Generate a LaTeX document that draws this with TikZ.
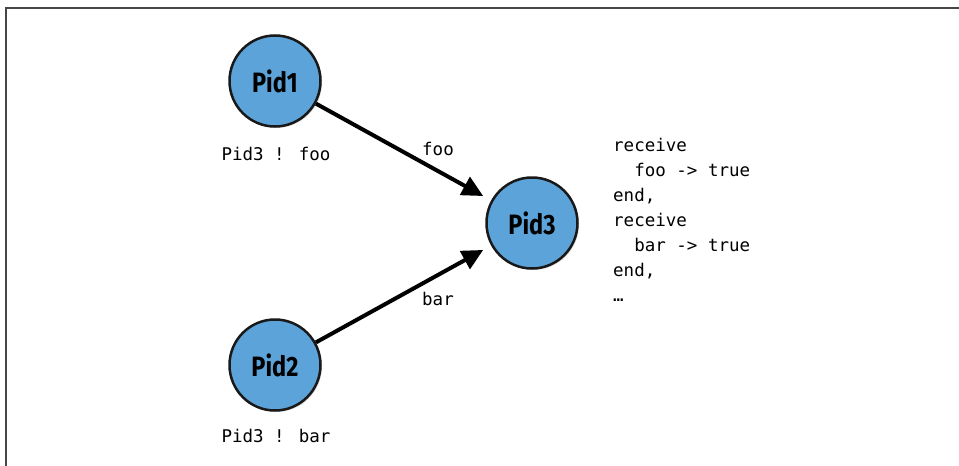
\documentclass[tikz,border=0pt]{standalone}
\usepackage{fontspec}
\usetikzlibrary{arrows.meta,shadows}
\newfontfamily\codefont{DejaVu Sans Mono}
\newfontfamily\pidfont[FakeStretch=0.84]{Fira Sans}
\definecolor{pidblue}{RGB}{92,163,218}
\definecolor{framegray}{RGB}{70,70,70}
\tikzset{
  pid/.style={circle, draw=black!90, line width=2.5pt, fill=pidblue, minimum size=91pt, inner sep=0pt,
    font=\pidfont\bfseries\fontsize{28}{28}\selectfont,
    drop shadow={opacity=0.25, shadow xshift=1.5pt, shadow yshift=-1.5pt}},
  code/.style={font=\codefont\fontsize{17.5}{25}\selectfont, inner sep=0pt},
  msg/.style={-{Triangle[length=21pt,width=20pt]}, line width=4pt, shorten >=9pt},
}
\begin{document}
\begin{tikzpicture}[x=1pt,y=-1pt]
\useasboundingbox (0,0) rectangle (959,466);
\fill[white] (0,0) rectangle (959,466);
\draw[framegray, line width=2pt] (5.5,466) -- (5.5,7.5) -- (959,7.5);

\node[pid] (p1) at (275,81) {Pid1};
\node[pid] (p2) at (275,365) {Pid2};
\node[pid] (p3) at (532,223) {Pid3};

\draw[msg] (p1) -- (p3);
\draw[msg] (p2) -- (p3);

\node[code, anchor=base] (l1) at (276,160) {Pid3 ! foo};
\node[code, anchor=base] (l2) at (276,442) {Pid3 ! bar};
\node[code, anchor=base west] (foo) at (422,155) {foo};
\node[code, anchor=base west] (bar) at (422,305) {bar};

\node[code, anchor=base west, align=left] (rc) at (613,301)
  {receive\\\hphantom{xx}foo -> true\\end,\\receive\\\hphantom{xx}bar -> true\\end,\\…};
\end{tikzpicture}
\end{document}
